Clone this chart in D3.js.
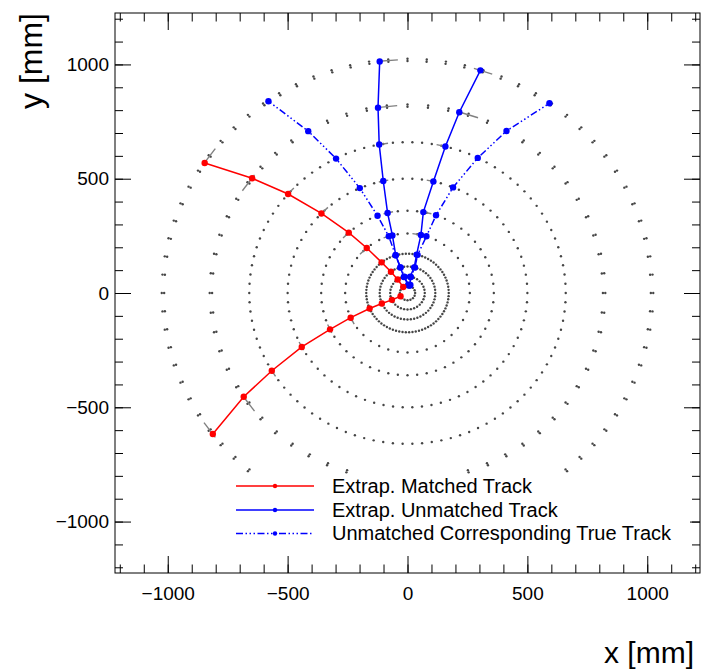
<!DOCTYPE html>
<html>
<head>
<meta charset="utf-8">
<script src="https://cdn.jsdelivr.net/npm/d3@7"></script>
<style>
  body { margin: 0; background: #fff; }
  svg { display: block; font-family: "Liberation Sans", Arial, sans-serif; }
</style>
</head>
<body>
<div id="chart"></div>
<script>
// detector layers (mm) and number of modules around phi
const layerRadii = [32, 72, 116, 172, 260, 360, 500, 660, 820, 1020];
const layerModules = [16, 32, 52, 78, 40, 56, 78, 102, 60, 80];
const layerSides = [1, 1, 1, 1, 1, 1, 1, 1, 2, 2];

// tracks, [x, y] in mm, inner to outer
const matchedTrackA = [[-18, 26], [-41, 59], [-69, 93], [-108, 134], [-170, 197], [-245, 264], [-359, 348], [-498, 433], [-648, 502], [-846, 569]];
const matchedTrackB = [[-29, -14], [-65, -30], [-107, -46], [-158, -68], [-237, -108], [-323, -159], [-441, -236], [-566, -340], [-683, -454], [-812, -617]];
const unmatchedTrackA = [[3, 36], [-15, 70], [-30, 112], [-49, 165], [-63, 252], [-83, 350], [-101, 490], [-118, 650], [-123, 811], [-116, 1013]];
const unmatchedTrackB = [[12, 35], [11, 71], [28, 112], [38, 168], [56, 254], [66, 354], [108, 488], [158, 641], [216, 791], [304, 974]];
const trueTrackA = [[5, 33], [-13, 71], [-29, 112], [-50, 165], [-78, 248], [-125, 338], [-199, 459], [-298, 588], [-414, 708], [-580, 839]];
const trueTrackB = [[10, 33], [14, 70], [31, 112], [42, 167], [79, 248], [119, 340], [190, 462], [293, 591], [413, 709], [592, 830]];

const legendLabels = ["Extrap. Matched Track", "Extrap. Unmatched Track", "Unmatched Corresponding True Track"];
const majorTicks = [-1000, -500, 0, 500, 1000];
const minorTicks = d3.range(-1200, 1201, 100);

// layout
const W = 702, H = 669;
const frame = {left: 115, right: 700, top: 13, bottom: 573};
const dashDot = "7 2.5 1.5 2.5 1.5 2.5 1.5 2.5";

let svg = d3.select("#chart").append("svg")
  .attr("width", W)
  .attr("height", H);

let x = d3.scaleLinear().domain([-1220, 1220]).range([frame.left, frame.right]);
let y = d3.scaleLinear().domain([-1225, 1225]).range([frame.bottom, frame.top]);

// module dots on each layer
let dots = [];
layerRadii.forEach((r, i) => {
  let n = layerModules[i];
  for (let k = 0; k < n; k++) {
    let a = 2 * Math.PI * k / n;
    if (layerSides[i] === 1) {
      dots.push([r * Math.cos(a), r * Math.sin(a)]);
    } else {
      [r - 5, r + 5].forEach(rr => dots.push([rr * Math.cos(a), rr * Math.sin(a)]));
    }
  }
});

svg.append("g").selectAll("circle").data(dots).join("circle")
  .attr("cx", d => x(d[0]))
  .attr("cy", d => y(d[1]))
  .attr("r", 1.2)
  .attr("fill", "#454545");

// modules hit by the extrapolated tracks, drawn as short tangential lines
function hitModules(track) {
  return track.map(p => {
    let r = Math.hypot(p[0], p[1]);
    let li = d3.minIndex(layerRadii, lr => Math.abs(lr - r));
    let lr = layerRadii[li], n = layerModules[li];
    let step = 2 * Math.PI / n;
    let a = Math.round(Math.atan2(p[1], p[0]) / step) * step;
    let half = Math.PI * lr / n;
    let cx = lr * Math.cos(a), cy = lr * Math.sin(a);
    let tx = -Math.sin(a), ty = Math.cos(a);
    return [[cx - half * tx, cy - half * ty], [cx + half * tx, cy + half * ty]];
  });
}

let hits = [matchedTrackA, matchedTrackB, unmatchedTrackA, unmatchedTrackB].flatMap(hitModules);
svg.append("g").selectAll("line").data(hits).join("line")
  .attr("x1", d => x(d[0][0]))
  .attr("y1", d => y(d[0][1]))
  .attr("x2", d => x(d[1][0]))
  .attr("y2", d => y(d[1][1]))
  .attr("stroke", "#808080")
  .attr("stroke-width", 1.4);

// tracks
let line = d3.line().x(d => x(d[0])).y(d => y(d[1]));
let tracks = [
  {pts: trueTrackA, color: "#0000ff", dash: dashDot},
  {pts: trueTrackB, color: "#0000ff", dash: dashDot},
  {pts: unmatchedTrackA, color: "#0000ff", dash: null},
  {pts: unmatchedTrackB, color: "#0000ff", dash: null},
  {pts: matchedTrackA, color: "#ff0000", dash: null},
  {pts: matchedTrackB, color: "#ff0000", dash: null}
];

tracks.forEach(t => {
  svg.append("path")
    .attr("d", line(t.pts))
    .attr("fill", "none")
    .attr("stroke", t.color)
    .attr("stroke-width", 1.5)
    .attr("stroke-dasharray", t.dash);
  svg.append("g").selectAll("circle").data(t.pts).join("circle")
    .attr("cx", d => x(d[0]))
    .attr("cy", d => y(d[1]))
    .attr("r", 3.2)
    .attr("fill", t.color);
});

// axes: ticks inside on all four sides
let fmt = d3.format("d");
function styleAxis(g, fontSize) {
  g.select(".domain").remove();
  g.selectAll("line").attr("stroke", "#000");
  g.selectAll("text").attr("fill", "#000").style("font-size", fontSize + "px")
    .style("font-family", "'Liberation Sans', Arial, sans-serif");
}

svg.append("g").attr("transform", `translate(0,${frame.bottom})`)
  .call(d3.axisBottom(x).tickValues(majorTicks).tickSize(-17).tickPadding(14).tickFormat(fmt))
  .call(g => styleAxis(g, 19));
svg.append("g").attr("transform", `translate(0,${frame.bottom})`)
  .call(d3.axisBottom(x).tickValues(minorTicks).tickSize(-8.5).tickFormat(""))
  .call(g => styleAxis(g, 19));
svg.append("g").attr("transform", `translate(0,${frame.top})`)
  .call(d3.axisTop(x).tickValues(majorTicks).tickSize(-17).tickFormat(""))
  .call(g => styleAxis(g, 19));
svg.append("g").attr("transform", `translate(0,${frame.top})`)
  .call(d3.axisTop(x).tickValues(minorTicks).tickSize(-8.5).tickFormat(""))
  .call(g => styleAxis(g, 19));

svg.append("g").attr("transform", `translate(${frame.left},0)`)
  .call(d3.axisLeft(y).tickValues(majorTicks).tickSize(-16).tickPadding(6).tickFormat(fmt))
  .call(g => styleAxis(g, 19));
svg.append("g").attr("transform", `translate(${frame.left},0)`)
  .call(d3.axisLeft(y).tickValues(minorTicks).tickSize(-8).tickFormat(""))
  .call(g => styleAxis(g, 19));
svg.append("g").attr("transform", `translate(${frame.right},0)`)
  .call(d3.axisRight(y).tickValues(majorTicks).tickSize(-16).tickFormat(""))
  .call(g => styleAxis(g, 19));
svg.append("g").attr("transform", `translate(${frame.right},0)`)
  .call(d3.axisRight(y).tickValues(minorTicks).tickSize(-8).tickFormat(""))
  .call(g => styleAxis(g, 19));

// frame
svg.append("rect")
  .attr("x", frame.left)
  .attr("y", frame.top)
  .attr("width", frame.right - frame.left)
  .attr("height", frame.bottom - frame.top)
  .attr("fill", "none")
  .attr("stroke", "#000")
  .attr("stroke-width", 1);

// axis titles
svg.append("text")
  .attr("x", 694)
  .attr("y", 663)
  .attr("text-anchor", "end")
  .style("font-size", "30px")
  .text("x [mm]");
svg.append("text")
  .attr("transform", "translate(42,13)rotate(-90)")
  .attr("text-anchor", "end")
  .style("font-size", "32px")
  .text("y [mm]");

// legend
let legend = svg.append("g");
legend.append("rect")
  .attr("x", 228).attr("y", 474)
  .attr("width", 462).attr("height", 72)
  .attr("fill", "#fff");

let legendStyles = [
  {color: "#ff0000", dash: null},
  {color: "#0000ff", dash: null},
  {color: "#0000ff", dash: dashDot}
];
let legendRows = [486, 510, 533.5];

legendLabels.forEach((label, i) => {
  let yy = legendRows[i];
  legend.append("line")
    .attr("x1", 236).attr("x2", 314)
    .attr("y1", yy).attr("y2", yy)
    .attr("stroke", legendStyles[i].color)
    .attr("stroke-width", 1.4)
    .attr("stroke-dasharray", legendStyles[i].dash);
  legend.append("circle")
    .attr("cx", 275).attr("cy", yy)
    .attr("r", 2.2)
    .attr("fill", legendStyles[i].color);
  legend.append("text")
    .attr("x", 332).attr("y", yy + 6.8)
    .style("font-size", "20px")
    .attr("fill", "#000")
    .text(label);
});
</script>
</body>
</html>
